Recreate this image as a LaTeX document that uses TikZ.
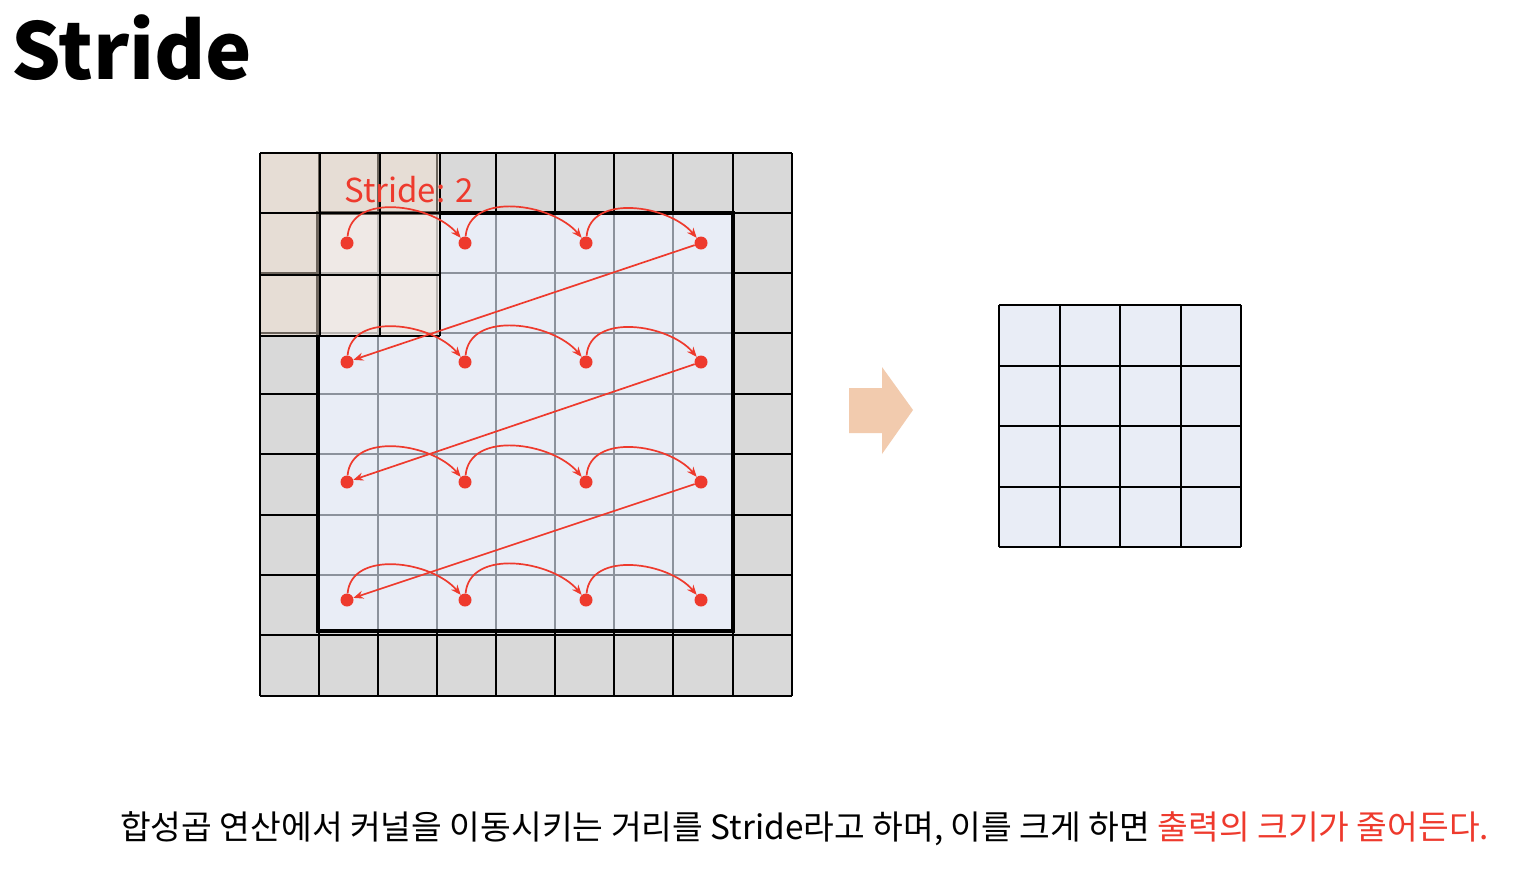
\documentclass[tikz,border=0pt]{standalone}
\usepackage{fontspec}
\setmainfont{Noto Sans CJK KR}
\usetikzlibrary{arrows.meta}
\definecolor{redc}{RGB}{238,58,45}
\definecolor{padgray}{RGB}{217,217,217}
\definecolor{cellblue}{RGB}{233,237,246}
\definecolor{innerline}{RGB}{140,146,156}
\definecolor{kern}{RGB}{247,228,210}
\definecolor{bigarrow}{RGB}{242,203,174}
\tikzset{
  blackline/.style={draw=black,line width=1.5pt},
  grayline/.style={draw=innerline,line width=1.5pt},
  dot/.style={circle,fill=redc,inner sep=0pt,minimum size=13pt},
  arc/.style={draw=redc,line width=1.7pt,-{Stealth[length=10pt,width=8pt]}},
}
\begin{document}
\begin{tikzpicture}[x=1pt,y=1pt]
\useasboundingbox (0,0) rectangle (1524,-884);
\fill[white] (0,0) rectangle (1524,-884);
% title
\node[anchor=base west,inner sep=0pt,font=\fontsize{78}{78}\selectfont\bfseries] (title) at (11,-79) {Stride};
% padded input grid
\fill[padgray] (260,-153) rectangle (792,-696);
\foreach \x in {260,319,378,437,496,555,614,673,733,792}
  \draw[blackline] (\x,-153) -- (\x,-696);
\foreach \y in {153,213,273,333,394,454,515,575,635,696}
  \draw[blackline] (260,-\y) -- (792,-\y);
% inner input
\fill[cellblue] (318,-213) rectangle (733,-631);
\foreach \x in {378,437,496,555,614,673}
  \draw[grayline] (\x,-213) -- (\x,-631);
\foreach \y in {273,333,394,454,515,575}
  \draw[grayline] (318,-\y) -- (733,-\y);
\draw[line width=3.5pt] (318,-213) rectangle (733,-631);
% kernel
\fill[kern,fill opacity=0.44] (260,-153) rectangle (440,-336);
\foreach \x in {260,320,380,440}
  \draw[blackline] (\x,-153) -- (\x,-336);
\foreach \y in {153,213,275,336}
  \draw[blackline] (260,-\y) -- (440,-\y);
% label
\node[anchor=base west,inner sep=0pt,text=redc,font=\fontsize{33}{33}\selectfont] (lbl) at (344,-202) {Stride: 2};
% dots
\foreach \r/\y in {1/243,2/362,3/482,4/600}
  \foreach \c/\x in {1/347,2/465,3/586,4/701}
    \node[dot] (d\r\c) at (\x,-\y) {};
% arcs
\foreach \r in {1,2,3,4}{
  \draw[arc] (d\r1) to[out=85,in=130,looseness=1.0] (d\r2);
  \draw[arc] (d\r2) to[out=85,in=130,looseness=1.0] (d\r3);
  \draw[arc] (d\r3) to[out=85,in=130,looseness=1.0] (d\r4);
}
\draw[arc] (d14) -- (d21);
\draw[arc] (d24) -- (d31);
\draw[arc] (d34) -- (d41);
% big arrow
\fill[bigarrow] (849,-388) -- (882,-388) -- (882,-367) -- (913,-410) -- (882,-454) -- (882,-433) -- (849,-433) -- cycle;
% output grid
\fill[cellblue] (999,-305) rectangle (1241,-547);
\foreach \x in {999,1059.5,1120,1180.5,1241}
  \draw[line width=2pt] (\x,-305) -- (\x,-547);
\foreach \y in {305,365.5,426,486.5,547}
  \draw[line width=2pt] (999,-\y) -- (1241,-\y);
% caption
\node[anchor=base west,inner sep=0pt,font=\fontsize{33.4}{33.4}\selectfont] (cap) at (120,-839) {합성곱 연산에서 커널을 이동시키는 거리를 Stride라고 하며, 이를 크게 하면 \textcolor{redc}{출력의 크기가 줄어든다.}};
\end{tikzpicture}
\end{document}
